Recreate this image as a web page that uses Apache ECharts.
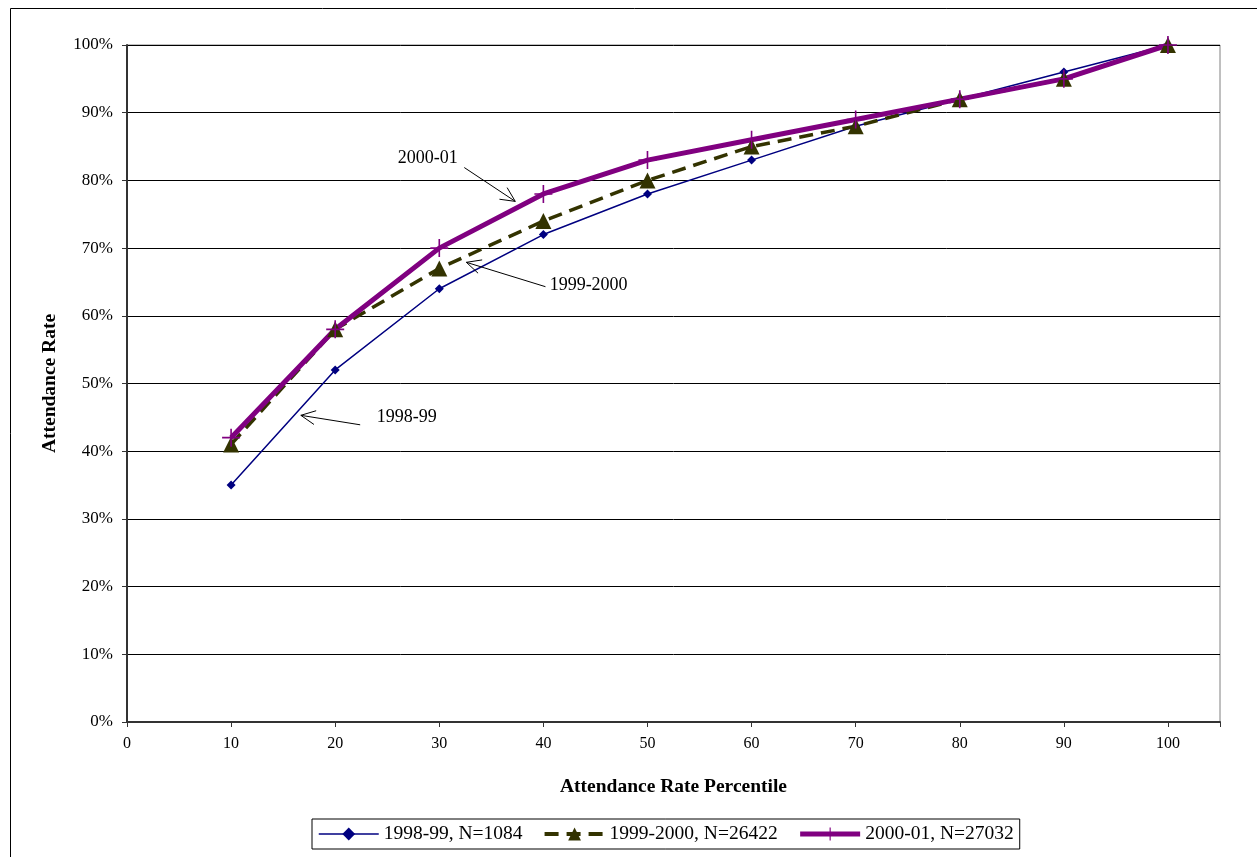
<!DOCTYPE html>
<html><head><meta charset="utf-8">
<script src="https://cdn.jsdelivr.net/npm/echarts@6/dist/echarts.min.js"></script>
<style>html,body{margin:0;padding:0;background:#fff}#c{width:1257px;height:857px}</style>
</head><body><div id="c"></div>
<script>
const percentiles = [10,20,30,40,50,60,70,80,90,100];
const s1998 = [35,52,64,72,78,83,88,92,96,100];
const s1999 = [41,58,67,74,80,85,88,92,95,100];
const s2000 = [42,58,70,78,83,86,89,92,95,100];
const seriesNames = ['1998-99, N=1084','1999-2000, N=26422','2000-01, N=27032'];
// annotation: label, text anchor (data), arrow tail (data), arrow head (data)
const annotations = [
  {text:'2000-01', at:[26.0,83.3], tail:[32.4,81.9], head:[37.3,76.9]},
  {text:'1999-2000', at:[40.6,64.5], tail:[40.2,64.3], head:[32.6,67.9]},
  {text:'1998-99', at:[24.0,45.0], tail:[22.4,43.9], head:[16.7,45.3]}
];
const FONT = 'Liberation Serif';
const chart = echarts.init(document.getElementById('c'));
const pair = a => percentiles.map((p,i)=>[p,a[i]]);
const crossPath = 'path://M-0.9,-10 L0.9,-10 L0.9,-0.9 L10,-0.9 L10,0.9 L0.9,0.9 L0.9,10 L-0.9,10 L-0.9,0.9 L-10,0.9 L-10,-0.9 L-0.9,-0.9 Z';
chart.setOption({
  animation:false,
  backgroundColor:'#fff',
  textStyle:{fontFamily:FONT},
  grid:{left:127, top:45, right:37, bottom:135, show:true, borderColor:'#808080', borderWidth:1},
  xAxis:{type:'value', min:0, max:105, interval:10,
    name:'Attendance Rate Percentile', nameLocation:'middle', nameGap:55,
    nameTextStyle:{fontFamily:FONT, fontWeight:'bold', fontSize:19.5, color:'#000'},
    axisLine:{show:true, lineStyle:{color:'#333', width:2}},
    axisTick:{show:true, inside:false, length:5, lineStyle:{color:'#333'}},
    axisLabel:{fontFamily:FONT, fontSize:16, color:'#000', margin:14,
      formatter:v=> v<=100 ? String(v) : ''},
    splitLine:{show:false}},
  yAxis:{type:'value', min:0, max:100, interval:10,
    name:'Attendance Rate', nameLocation:'middle', nameGap:67, nameRotate:90,
    nameTextStyle:{fontFamily:FONT, fontWeight:'bold', fontSize:19.5, color:'#000'},
    axisLine:{show:true, lineStyle:{color:'#333', width:2}},
    axisTick:{show:true, length:5, lineStyle:{color:'#333'}},
    axisLabel:{fontFamily:FONT, fontSize:17, color:'#000', margin:14, formatter:v=>v+'%'},
    splitLine:{show:true, lineStyle:{color:'#000', width:1}}},
  legend:{bottom:8, left:312, orient:'horizontal',
    data:[
      {name:seriesNames[0], lineStyle:{width:1.5}},
      {name:seriesNames[1], lineStyle:{width:4}},
      {name:seriesNames[2], lineStyle:{width:5}}
    ],
    itemWidth:60, itemHeight:16, itemGap:20,
    borderColor:'#000', borderWidth:1, padding:[5,6,5,6],
    textStyle:{fontFamily:FONT, fontSize:19.5, color:'#000'}},
  series:[
    {name:seriesNames[0], type:'line', data:pair(s1998), symbol:'diamond', symbolSize:9,
      lineStyle:{color:'#000080', width:1.5}, itemStyle:{color:'#000080'}},
    {name:seriesNames[1], type:'line', data:pair(s1999), symbol:'triangle', symbolSize:16,
      lineStyle:{color:'#333300', width:3.5, type:[14,8]}, itemStyle:{color:'#333300'}},
    {name:seriesNames[2], type:'line', data:pair(s2000), symbol:crossPath, symbolSize:18,
      lineStyle:{color:'#800080', width:5}, itemStyle:{color:'#800080'}}
  ]
});
function arrowGraphics(){
  const g = [];
  g.push({type:'rect', shape:{x:10.5,y:8.5,width:1260,height:870}, style:{fill:null, stroke:'#000', lineWidth:1}, silent:true, z:-10});
  annotations.forEach(a=>{
    const t = chart.convertToPixel({gridIndex:0}, a.tail);
    const h = chart.convertToPixel({gridIndex:0}, a.head);
    const p = chart.convertToPixel({gridIndex:0}, a.at);
    const ang = Math.atan2(t[1]-h[1], t[0]-h[0]);
    const L = 16, w = 0.45;
    const p1 = [h[0]+L*Math.cos(ang+w), h[1]+L*Math.sin(ang+w)];
    const p2 = [h[0]+L*Math.cos(ang-w), h[1]+L*Math.sin(ang-w)];
    g.push({type:'line', shape:{x1:t[0],y1:t[1],x2:h[0],y2:h[1]}, style:{stroke:'#000', lineWidth:1}, z:100});
    g.push({type:'polyline', shape:{points:[p1,h,p2]}, style:{stroke:'#000', lineWidth:1, fill:null}, z:100});
    g.push({type:'text', x:p[0], y:p[1], style:{text:a.text, fontFamily:FONT, fontSize:18, fill:'#000', align:'left', verticalAlign:'middle'}, z:100});
  });
  return g;
}
chart.setOption({graphic:arrowGraphics()});
</script></body></html>
